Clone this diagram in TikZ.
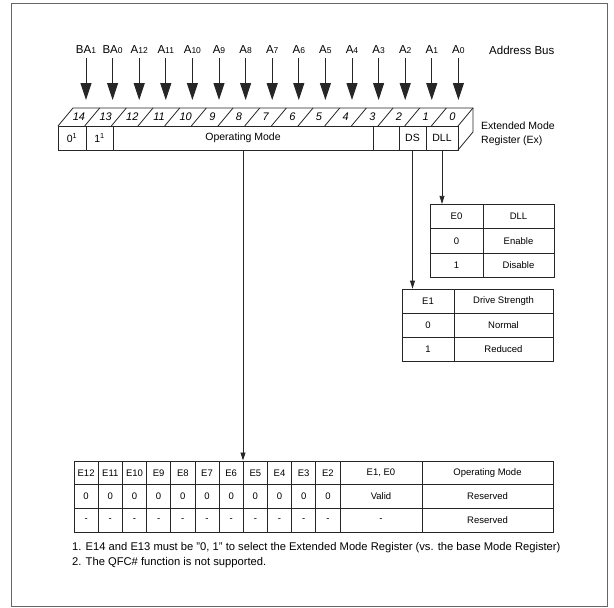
\documentclass[tikz,border=0pt]{standalone}
\usepackage{fontspec}
\setmainfont{Liberation Sans}
\usetikzlibrary{arrows.meta}

\begin{document}
\begin{tikzpicture}[x=1pt, y=-1pt,
    busarrow/.style={-{Triangle[width=11pt, length=17pt]}, line width=1pt, black!85},
    selarrow/.style={-{Triangle[width=5pt, length=8pt]}, line width=0.8pt, black!85},
    regcell/.style={draw=black!85, line width=0.8pt, minimum height=24pt, inner sep=0pt, font=\fontsize{10.5}{12}\selectfont},
    tcell/.style={draw=black!85, line width=0.8pt, inner sep=0pt, font=\fontsize{9.5}{11}\selectfont},
    buslabel/.style={font=\fontsize{11.5}{13}\selectfont, inner sep=1pt}]
    \useasboundingbox (0,0) rectangle (614,608);
    \draw[black!60, line width=1pt] (11,3) rectangle (607,606);

    % address bus
    \foreach \pre/\num [count=\k from 0] in {BA/1,BA/0,A/12,A/11,A/10,A/9,A/8,A/7,A/6,A/5,A/4,A/3,A/2,A/1,A/0} {
        \node[buslabel] (bus\k) at ({86+26.6*\k},50) {\pre{\fontsize{8.5}{9}\selectfont\num}};
        \coordinate (tip\k) at ({86+26.6*\k},100);
        \draw[busarrow, shorten <=3pt] (bus\k) -- (tip\k);
    }
    \node[buslabel, anchor=west] (busname) at (488,50) {Address Bus};

    % register, top and side faces
    \draw[black!85, line width=0.8pt] (58,126) -- (73,108) -- (473,108) -- (473,132) -- (458,150);
    \draw[black!85, line width=0.8pt] (458,126) -- (473,108);
    \foreach \k in {0,...,14} {
        \pgfmathtruncatemacro\bit{14-\k}
        \node[font=\itshape\fontsize{11}{12}\selectfont, inner sep=0pt] (bit\bit) at ({79+26.67*\k},117) {\bit};
        \ifnum\k>0 \draw[black!85, line width=0.8pt] ({58+26.67*\k},126) -- ({73+26.67*\k},108); \fi
    }

    % register, front face
    \node[regcell, minimum width=28pt] (r14) at (72,138) {0\textsuperscript{1}};
    \node[regcell, minimum width=27pt] (r13) at (99.5,138) {1\textsuperscript{1}};
    \node[regcell, minimum width=260pt] (rop) at (243,138) {Operating Mode};
    \node[regcell, minimum width=26pt] (r2) at (386,138) {};
    \node[regcell, minimum width=27pt] (rds) at (412.5,138) {DS};
    \node[regcell, minimum width=32pt] (rdll) at (442,138) {DLL};
    \node[anchor=west, align=left, inner sep=0pt, font=\fontsize{10.5}{13.5}\selectfont] (regname) at (481,134) {Extended Mode\\Register (Ex)};

    % DLL table
    \node[tcell, minimum width=53pt, minimum height=24.5pt] (e0h) at (456.5,216.5) {E0};
    \node[tcell, minimum width=71pt, minimum height=24.5pt] (dllh) at (518.5,216.5) {DLL};
    \node[tcell, minimum width=53pt, minimum height=24.5pt] (e00) at (456.5,241) {0};
    \node[tcell, minimum width=71pt, minimum height=24.5pt] (dll0) at (518.5,241) {Enable};
    \node[tcell, minimum width=53pt, minimum height=24.5pt] (e01) at (456.5,265.5) {1};
    \node[tcell, minimum width=71pt, minimum height=24.5pt] (dll1) at (518.5,265.5) {Disable};

    % drive strength table
    \node[tcell, minimum width=52pt, minimum height=24pt] (e1h) at (428,301) {E1};
    \node[tcell, minimum width=99pt, minimum height=24pt] (dsh) at (503.5,301) {Drive Strength};
    \node[tcell, minimum width=52pt, minimum height=24pt] (e10) at (428,325) {0};
    \node[tcell, minimum width=99pt, minimum height=24pt] (ds0) at (503.5,325) {Normal};
    \node[tcell, minimum width=52pt, minimum height=24pt] (e11) at (428,349) {1};
    \node[tcell, minimum width=99pt, minimum height=24pt] (ds1) at (503.5,349) {Reduced};

    % operating mode table
    \foreach \j in {0,...,10} {
        \pgfmathtruncatemacro\e{12-\j}
        \node[tcell, minimum width=24.18pt, minimum height=23.7pt] (h\e) at ({86.1+24.18*\j},472.8) {E\e};
        \node[tcell, minimum width=24.18pt, minimum height=23.7pt] (z\e) at ({86.1+24.18*\j},496.5) {0};
        \node[tcell, minimum width=24.18pt, minimum height=23.7pt] (d\e) at ({86.1+24.18*\j},520.2) {-};
    }
    \node[tcell, minimum width=82pt, minimum height=23.7pt] (eh) at (381,472.8) {E1, E0};
    \node[tcell, minimum width=82pt, minimum height=23.7pt] (ez) at (381,496.5) {Valid};
    \node[tcell, minimum width=82pt, minimum height=23.7pt] (ed) at (381,520.2) {-};
    \node[tcell, minimum width=131pt, minimum height=23.7pt] (omh) at (487.5,472.8) {Operating Mode};
    \node[tcell, minimum width=131pt, minimum height=23.7pt] (om0) at (487.5,496.5) {Reserved};
    \node[tcell, minimum width=131pt, minimum height=23.7pt] (om1) at (487.5,520.2) {Reserved};

    % field selection
    \draw[selarrow] (rop.south) -- (rop.south |- h6.north);
    \draw[selarrow] (rds.south) -- (rds.south |- e1h.north);
    \draw[selarrow] (rdll.south) -- (rdll.south |- e0h.north);

    % notes
    \node[anchor=west, align=left, inner sep=0pt, font=\fontsize{11.2}{15}\selectfont] (notes) at (72,555.5) {1. E14 and E13 must be "0, 1" to select the Extended Mode Register (vs. the base Mode Register)\\2. The QFC\# function is not supported.};
\end{tikzpicture}
\end{document}
